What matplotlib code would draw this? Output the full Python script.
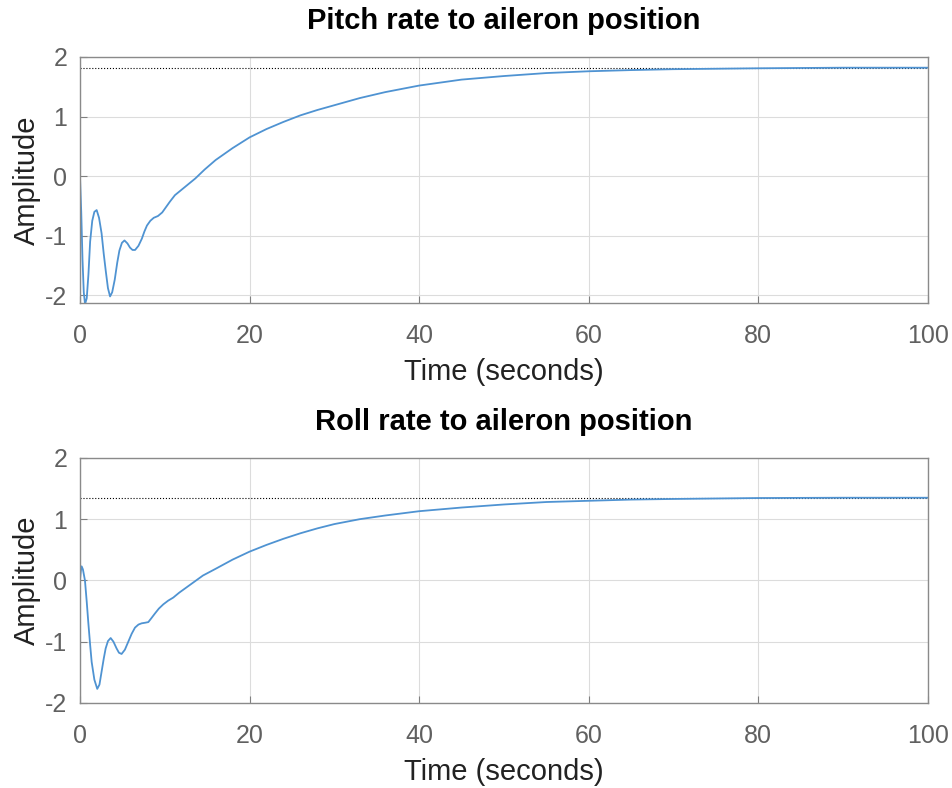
import matplotlib
matplotlib.use('Agg')
import matplotlib.pyplot as plt

# Pitch rate response
pitch_t = [0, 0.15, 0.3, 0.45, 0.6, 0.8, 1.0, 1.2, 1.45, 1.7, 1.97, 2.25, 2.55, 2.8,
           3.05, 3.3, 3.55, 3.8, 4.1, 4.4, 4.65, 4.95, 5.25, 5.6, 5.9, 6.2, 6.5, 6.9,
           7.3, 7.6, 7.9, 8.3, 8.7, 9.2, 9.7, 10.1, 10.6, 11.2, 11.8, 12.4, 13.0, 13.6,
           14.7, 16, 18, 20, 22, 24, 26, 28, 30, 33, 36, 40, 45, 50, 55, 60, 65, 70,
           80, 90, 100]
pitch_y = [0, -0.6, -1.4, -1.95, -2.15, -2.05, -1.65, -1.1, -0.75, -0.6, -0.57, -0.7,
           -0.96, -1.3, -1.6, -1.88, -2.02, -1.95, -1.74, -1.45, -1.25, -1.12, -1.08,
           -1.13, -1.2, -1.24, -1.24, -1.17, -1.05, -0.93, -0.83, -0.75, -0.7, -0.67,
           -0.61, -0.53, -0.43, -0.32, -0.25, -0.18, -0.11, -0.04, 0.11, 0.27, 0.47,
           0.65, 0.79, 0.91, 1.02, 1.11, 1.19, 1.31, 1.41, 1.52, 1.62, 1.68, 1.73,
           1.76, 1.78, 1.795, 1.81, 1.82, 1.82]
pitch_final = 1.82

# Roll rate response
roll_t = [0, 0.1, 0.2, 0.35, 0.59, 0.8, 0.98, 1.2, 1.38, 1.7, 2.04, 2.3, 2.55, 2.8,
          3.03, 3.3, 3.62, 3.95, 4.32, 4.6, 4.91, 5.3, 5.7, 6.1, 6.49, 6.9, 7.27,
          7.7, 8.06, 8.4, 8.84, 9.3, 9.83, 10.4, 11.0, 11.7, 12.4, 13.0, 13.6, 14.5,
          16, 18, 20, 22, 24, 26, 28, 30, 33, 36, 40, 45, 50, 55, 60, 65, 70, 80, 90, 100]
roll_y = [0, 0.15, 0.23, 0.18, 0.0, -0.35, -0.68, -1.05, -1.33, -1.62, -1.77, -1.7,
          -1.49, -1.28, -1.11, -0.99, -0.94, -1.0, -1.11, -1.18, -1.2, -1.13, -1.0,
          -0.87, -0.77, -0.72, -0.7, -0.69, -0.68, -0.62, -0.54, -0.46, -0.39, -0.33,
          -0.28, -0.2, -0.13, -0.07, -0.01, 0.08, 0.19, 0.34, 0.47, 0.58, 0.68, 0.77,
          0.85, 0.92, 1.0, 1.06, 1.13, 1.19, 1.24, 1.28, 1.30, 1.32, 1.33, 1.345,
          1.35, 1.35]
roll_final = 1.35

x_ticks = [0, 20, 40, 60, 80, 100]

plt.rcParams['font.family'] = ['Liberation Sans', 'DejaVu Sans']

fig = plt.figure(figsize=(9.53, 7.88), dpi=100)
ax1 = fig.add_axes([0.0839, 0.6155, 0.8898, 0.3122])
ax2 = fig.add_axes([0.0839, 0.1079, 0.8898, 0.3110])

panels = [
    (ax1, pitch_t, pitch_y, pitch_final, 'Pitch rate to aileron position', (-2.13, 2.0)),
    (ax2, roll_t, roll_y, roll_final, 'Roll rate to aileron position', (-2.0, 2.0)),
]

for ax, t, y, final, title, ylim in panels:
    ax.plot([0, 100], [final, final], color='black', linestyle=':', linewidth=0.8)
    ax.plot(t, y, color='#4f93d2', linewidth=1.3)
    ax.set_xlim(0, 100)
    ax.set_ylim(*ylim)
    ax.set_xticks(x_ticks)
    ax.set_yticks([-2, -1, 0, 1, 2])
    ax.set_yticklabels(['-2', '-1', '0', '1', '2'])
    ax.grid(True, color='#dcdcdc', linewidth=0.8)
    ax.set_axisbelow(True)
    ax.tick_params(direction='in', colors='#7f7f7f', labelcolor='#606060',
                   labelsize=18, length=5)
    ax.tick_params(axis='x', pad=15)
    ax.tick_params(axis='y', pad=9)
    for sp in ax.spines.values():
        sp.set_color('#8a8a8a')
        sp.set_linewidth(1.0)
    ax.set_title(title, fontsize=21, fontweight='bold', pad=20)
    ax.set_xlabel('Time (seconds)', fontsize=21, color='#222222', labelpad=7)
    ax.set_ylabel('Amplitude', fontsize=21, color='#222222', labelpad=3)

fig.savefig('out.png', dpi=100)
